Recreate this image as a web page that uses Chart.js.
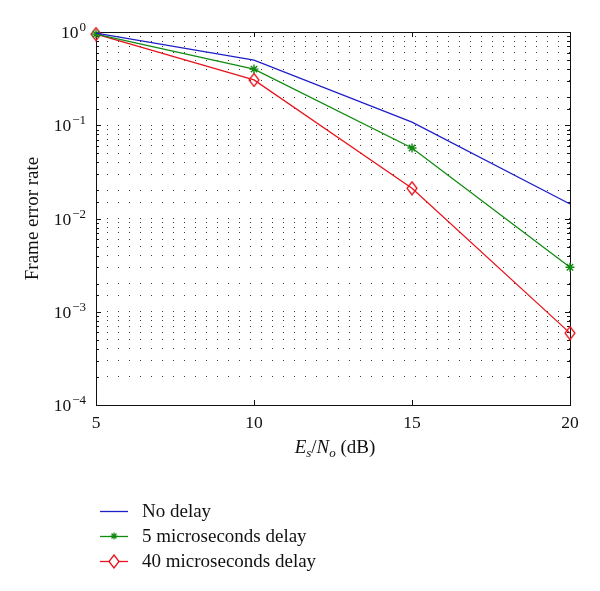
<!DOCTYPE html>
<html>
<head>
<meta charset="utf-8">
<script src="https://cdn.jsdelivr.net/npm/chart.js@4"></script>
<style>
  html, body { margin: 0; padding: 0; background: #fff; }
  #wrap { width: 600px; height: 591px; position: relative; }
</style>
</head>
<body>
<div id="wrap"><canvas id="fer"></canvas></div>
<script>
// data
const snrDb = [5, 10, 15, 20];
const noDelay = [0.97, 0.50, 0.108, 0.0143];
const delay5us = [0.95, 0.40, 0.057, 0.0030];
const delay40us = [0.95, 0.306, 0.0211, 0.00059];

const seriesNames = ["No delay", "5 microseconds delay", "40 microseconds delay"];
const seriesColors = ["#1f1fc8", "#118a11", "#e8141c"];

const xTickValues = [5, 10, 15, 20];
const yTickValues = [1, 0.1, 0.01, 0.001, 0.0001];
const yTickExps = ["0", "\u22121", "\u22122", "\u22123", "\u22124"];

const SERIF = '"Liberation Serif", "DejaVu Serif", serif';

// hollow diamond, a bit taller than wide like matlab's 'd'
function makeDiamond(color) {
  const c = document.createElement("canvas");
  c.width = 12; c.height = 15;
  const g = c.getContext("2d");
  g.strokeStyle = color;
  g.lineWidth = 1.3;
  g.beginPath();
  g.moveTo(6, 1); g.lineTo(11, 7.5); g.lineTo(6, 14); g.lineTo(1, 7.5);
  g.closePath();
  g.stroke();
  return c;
}
const diamond = makeDiamond(seriesColors[2]);

// box round the plot + inward ticks + tick labels + axis titles
const framePlugin = {
  id: "frame",
  beforeDatasetsDraw(chart) {
    const { ctx, chartArea: a, scales } = chart;
    const xs = scales.x, ys = scales.y;
    ctx.save();
    ctx.strokeStyle = "#111";
    ctx.lineWidth = 1;
    ctx.strokeRect(Math.round(a.left) + 0.5, Math.round(a.top) + 0.5,
      Math.round(a.right - a.left), Math.round(a.bottom - a.top));

    ctx.beginPath();
    ys.ticks.forEach(t => {
      const y = Math.round(ys.getPixelForValue(t.value)) + 0.5;
      const len = yTickValues.includes(t.value) ? 5 : 3;
      ctx.moveTo(a.left, y); ctx.lineTo(a.left + len, y);
      ctx.moveTo(a.right, y); ctx.lineTo(a.right - len, y);
    });
    xTickValues.forEach(v => {
      const x = Math.round(xs.getPixelForValue(v)) + 0.5;
      ctx.moveTo(x, a.bottom); ctx.lineTo(x, a.bottom - 5);
      ctx.moveTo(x, a.top); ctx.lineTo(x, a.top + 5);
    });
    ctx.stroke();
    ctx.restore();
  },
  afterDraw(chart) {
    const { ctx, chartArea: a, scales } = chart;
    const xs = scales.x, ys = scales.y;
    ctx.save();
    ctx.fillStyle = "#111";

    // y tick labels 10^k
    yTickValues.forEach((v, i) => {
      const y = ys.getPixelForValue(v);
      ctx.font = "13px " + SERIF;
      ctx.textAlign = "right";
      ctx.textBaseline = "alphabetic";
      const expW = ctx.measureText(yTickExps[i]).width;
      ctx.fillText(yTickExps[i], a.left - 10, y - 1);
      ctx.font = "17.5px " + SERIF;
      ctx.fillText("10", a.left - 11 - expW, y + 6);
    });

    // x tick labels
    ctx.font = "17.5px " + SERIF;
    ctx.textAlign = "center";
    xTickValues.forEach(v => {
      ctx.fillText(String(v), xs.getPixelForValue(v), a.bottom + 23);
    });

    // x title: E_s/N_o (dB)
    const parts = [
      { t: "E", f: "italic 19px ", dy: 0 },
      { t: "s", f: "italic 13px ", dy: 4 },
      { t: "/", f: "19px ", dy: 0 },
      { t: "N", f: "italic 19px ", dy: 0 },
      { t: "o", f: "italic 13px ", dy: 4 },
      { t: " (dB)", f: "19px ", dy: 0 }
    ];
    let total = 0;
    parts.forEach(p => { ctx.font = p.f + SERIF; p.w = ctx.measureText(p.t).width; total += p.w; });
    let x = (a.left + a.right) / 2 - total / 2 + 2;
    ctx.textAlign = "left";
    parts.forEach(p => {
      ctx.font = p.f + SERIF;
      ctx.fillText(p.t, x, a.bottom + 48 + p.dy);
      x += p.w;
    });

    // y title
    ctx.save();
    ctx.translate(38, (a.top + a.bottom) / 2);
    ctx.rotate(-Math.PI / 2);
    ctx.textAlign = "center";
    ctx.font = "19px " + SERIF;
    ctx.fillText("Frame error rate", 0, 0);
    ctx.restore();

    // legend under the plot
    chart.data.datasets.forEach((ds, i) => {
      const y = 511 + i * 25;
      ctx.strokeStyle = ds.borderColor;
      ctx.lineWidth = 1.3;
      ctx.beginPath();
      ctx.moveTo(100, y + 0.5); ctx.lineTo(128, y + 0.5);
      ctx.stroke();
      if (ds.pointStyle === "star") {
        ctx.lineWidth = 1.2;
        ctx.beginPath();
        const r = 3.5;
        for (let k = 0; k < 4; k++) {
          const ang = k * Math.PI / 4;
          ctx.moveTo(114 - r * Math.cos(ang), y - r * Math.sin(ang));
          ctx.lineTo(114 + r * Math.cos(ang), y + r * Math.sin(ang));
        }
        ctx.stroke();
      } else if (ds.pointStyle instanceof HTMLCanvasElement) {
        ctx.fillStyle = "#fff";
        ctx.fillRect(110, y - 5, 8, 10);
        ctx.drawImage(ds.pointStyle, 114 - 6, y - 7);
      }
      ctx.fillStyle = "#111";
      ctx.font = "19px " + SERIF;
      ctx.textAlign = "left";
      ctx.textBaseline = "middle";
      ctx.fillText(ds.label, 142, y + 1);
    });
    ctx.restore();
  }
};

new Chart(document.getElementById("fer"), {
  type: "line",
  data: {
    datasets: [
      {
        label: seriesNames[0],
        data: snrDb.map((x, i) => ({ x, y: noDelay[i] })),
        borderColor: seriesColors[0],
        borderWidth: 1.3,
        pointRadius: 0,
        pointStyle: false,
        clip: false
      },
      {
        label: seriesNames[1],
        data: snrDb.map((x, i) => ({ x, y: delay5us[i] })),
        borderColor: seriesColors[1],
        backgroundColor: seriesColors[1],
        borderWidth: 1.3,
        pointStyle: "star",
        pointRadius: 4.5,
        pointBorderWidth: 1.4,
        clip: false
      },
      {
        label: seriesNames[2],
        data: snrDb.map((x, i) => ({ x, y: delay40us[i] })),
        borderColor: seriesColors[2],
        backgroundColor: "rgba(0,0,0,0)",
        borderWidth: 1.3,
        pointStyle: diamond,
        pointRadius: 6,
        clip: false
      }
    ]
  },
  options: {
    responsive: true,
    maintainAspectRatio: false,
    animation: false,
    events: [],
    layout: { padding: { top: 32, right: 30, left: 0, bottom: 0 } },
    plugins: { legend: { display: false }, tooltip: { enabled: false } },
    scales: {
      x: {
        type: "linear",
        min: 5,
        max: 20,
        ticks: { display: false, stepSize: 5 },
        grid: { display: false },
        border: { display: false },
        afterFit: s => { s.height = 186; }
      },
      y: {
        type: "logarithmic",
        min: 0.0001,
        max: 1,
        ticks: { display: false },
        grid: { color: "#3a3a3a", lineWidth: 1, drawTicks: false },
        border: { display: false, dash: [1, 10] },
        afterFit: s => { s.width = 96; }
      }
    }
  },
  plugins: [framePlugin]
});
</script>
</body>
</html>
